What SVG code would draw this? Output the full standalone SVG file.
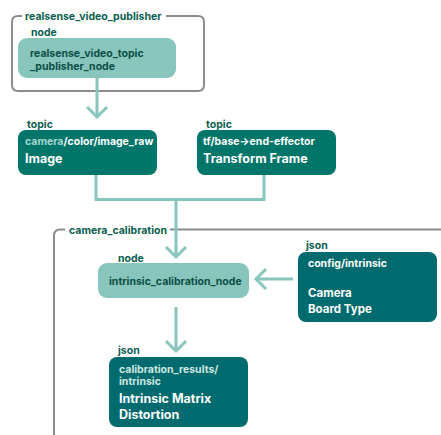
<svg xmlns="http://www.w3.org/2000/svg" width="441" height="435" viewBox="0 0 441 435">
  <defs>
    <style>
      text { font-family: Inter, "Noto Sans", "Liberation Sans", sans-serif; font-weight: 700; }
      .group { fill: none; stroke: #8c8c8c; stroke-width: 2; }
      .glabel { fill: #0b5e4f; font-size: 10.5px; }
      .kind { fill: #0b5e4f; font-size: 10.5px; }
      .proc { fill: #87c5bd; }
      .proc-text { fill: #0b4f45; font-size: 10.5px; }
      .topic { fill: #00756a; }
      .json { fill: #006b6e; }
      .path-text { fill: #ffffff; font-size: 10.5px; }
      .path-dim { fill: #a8d6cf; }
      .title-text { fill: #ffffff; font-size: 12.5px; }
      .wire { fill: none; stroke: #87c5bd; stroke-width: 3; }
    </style>
  </defs>

  <rect width="441" height="435" fill="#ffffff"/>

  <!-- package frames -->
  <g id="realsense_video_publisher">
    <path class="group" d="M 22 16 H 18 Q 12 16 12 22 V 85 Q 12 91 18 91 H 198 Q 204 91 204 85 V 22 Q 204 16 198 16 H 166"/>
    <text class="glabel" x="25" y="20">realsense_video_publisher</text>
  </g>
  <g id="camera_calibration">
    <path class="group" d="M 65 229.5 H 60 Q 54 229.5 54 236 V 440"/>
    <path class="group" d="M 170 229.5 H 445"/>
    <text class="glabel" x="69" y="234">camera_calibration</text>
  </g>

  <!-- connectors -->
  <g id="connectors">
    <path class="wire" d="M 97 78 V 117"/>
    <path class="wire" d="M 87 107 L 97 117 L 107 107"/>
    <path class="wire" d="M 96 175 V 199.5 H 264 V 175"/>
    <path class="wire" d="M 176 199.5 V 257"/>
    <path class="wire" d="M 166 247 L 176 257 L 186 247"/>
    <path class="wire" d="M 293 279 H 256"/>
    <path class="wire" d="M 266 269 L 256 279 L 266 289"/>
    <path class="wire" d="M 176 307 V 351"/>
    <path class="wire" d="M 166 341 L 176 351 L 186 341"/>
  </g>

  <!-- nodes -->
  <g id="realsense_video_topic_publisher_node">
    <text class="kind" x="31" y="36">node</text>
    <rect class="proc" x="18" y="38" width="158" height="40" rx="9"/>
    <text class="proc-text" x="30" y="57">realsense_video_topic</text>
    <text class="proc-text" x="30" y="70">_publisher_node</text>
  </g>

  <g id="image_topic">
    <text class="kind" x="27" y="128">topic</text>
    <rect class="topic" x="18" y="130" width="139" height="45" rx="8"/>
    <text class="path-text" x="25" y="145"><tspan class="path-dim">camera</tspan>/color/image_raw</text>
    <text class="title-text" x="25" y="163">Image</text>
  </g>

  <g id="transform_topic">
    <text class="kind" x="206" y="128">topic</text>
    <rect class="topic" x="197" y="130" width="139" height="45" rx="8"/>
    <text class="path-text" x="203" y="145">tf/base→end-effector</text>
    <text class="title-text" x="203" y="163">Transform Frame</text>
  </g>

  <g id="intrinsic_calibration_node">
    <text class="kind" x="118" y="262">node</text>
    <rect class="proc" x="98" y="263" width="151" height="35" rx="9"/>
    <text class="proc-text" x="109" y="285">intrinsic_calibration_node</text>
  </g>

  <g id="config_intrinsic">
    <text class="kind" x="306" y="249">json</text>
    <rect class="json" x="298" y="252" width="139" height="70" rx="8"/>
    <text class="path-text" x="308" y="267">config/intrinsic</text>
    <text class="title-text" x="308" y="297" style="font-size:11.5px">Camera</text>
    <text class="title-text" x="308" y="313" style="font-size:11.5px">Board Type</text>
  </g>

  <g id="calibration_results_intrinsic">
    <text class="kind" x="118" y="354">json</text>
    <rect class="json" x="109" y="357" width="139" height="70" rx="8"/>
    <text class="path-text" x="119" y="373" style="fill:#cfe7e3">calibration_results/</text>
    <text class="path-text" x="119" y="385" style="fill:#cfe7e3">intrinsic</text>
    <text class="title-text" x="119" y="403">Intrinsic Matrix</text>
    <text class="title-text" x="119" y="419">Distortion</text>
  </g>
</svg>
